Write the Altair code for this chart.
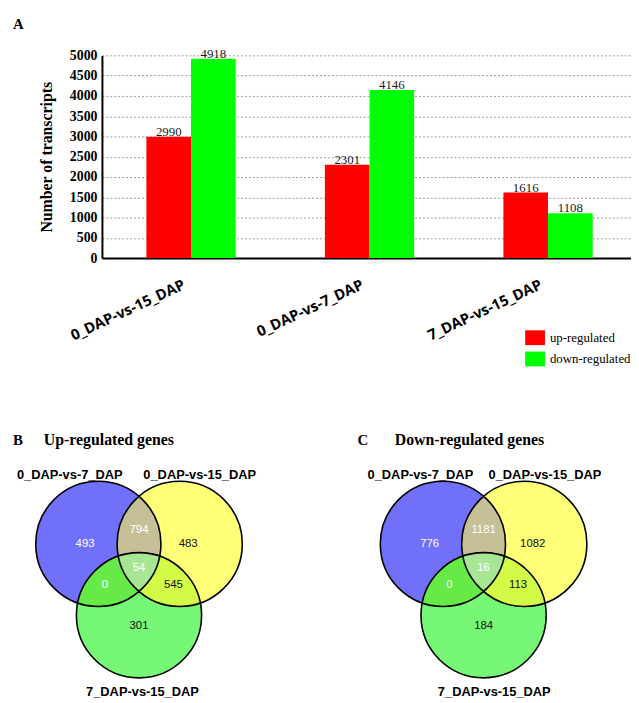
import math
import altair as alt
import pandas as pd

# ------------------------------------------------------------------ data
comparisons = ["0_DAP-vs-15_DAP", "0_DAP-vs-7_DAP", "7_DAP-vs-15_DAP"]
up_regulated = [2990, 2301, 1616]
down_regulated = [4918, 4146, 1108]
directions = ["up-regulated", "down-regulated"]
y_tick_values = [0, 500, 1000, 1500, 2000, 2500, 3000, 3500, 4000, 4500, 5000]

venn_sets = ["0_DAP-vs-7_DAP", "0_DAP-vs-15_DAP", "7_DAP-vs-15_DAP"]
venn_regions = ["A", "B", "C", "AB", "AC", "BC", "ABC"]
up_counts = [493, 483, 301, 794, 0, 545, 54]
down_counts = [776, 1082, 184, 1181, 0, 113, 16]
panel_letters = ["B", "C"]
panel_titles = ["Up-regulated genes", "Down-regulated genes"]

# ------------------------------------------------------------------ styles / layout
BAR_COLORS = ["#FF0000", "#00FF00"]
REGION_FILL = {"A": "#7070FA", "B": "#FFFF78", "C": "#76F876", "AB": "#C6C096",
               "AC": "#66EA48", "BC": "#D4FA48", "ABC": "#A8E696"}
REGION_TEXT = {"A": "#FFFFFF", "B": "#111111", "C": "#111111", "AB": "#FFFFFF",
               "AC": "#FFFFFF", "BC": "#111111", "ABC": "#FFFFFF"}

PX = 63.3                 # pixels per Venn circle radius
SEP, DROP = 0.65, 1.14    # circle layout in radius units
CIRCLES = {"A": (-SEP, 0.0), "B": (SEP, 0.0), "C": (0.0, -DROP)}   # y up
LABEL_POS = {"A": (-0.862, 0.0), "B": (0.785, 0.0), "C": (0.0, -1.316),
             "AB": (0.0, 0.225), "AC": (-0.545, -0.655), "BC": (0.55, -0.655),
             "ABC": (0.0, -0.387)}
PANEL_X = [0.0, 5.505]
SET_LABEL_X = [[-1.106, 0.97, 0.055], [-1.01, 0.98, 0.17]]
SET_LABEL_Y = [1.106, 1.106, -2.37]
LETTER_X = -2.014
TITLE_X = [-1.52, -1.42]
HEAD_Y = 1.58

BW, BH = 530, 268
X0 = -0.592
Y1 = 1.8167
TOP_W, TOP_H = 535, 205

# ------------------------------------------------------------------ top: bar chart
bar_df = pd.DataFrame({
    "comparison": comparisons * 2,
    "direction": [directions[0]] * 3 + [directions[1]] * 3,
    "value": up_regulated + down_regulated,
})

x_enc = alt.X(
    "comparison:N", sort=comparisons,
    scale=alt.Scale(paddingInner=0.5, paddingOuter=0.232, align=0.537),
    axis=alt.Axis(title=None, labelAngle=-25, labelAlign="right", labelBaseline="alphabetic",
                  labelPadding=30, labelOffset=-5, labelFont="Open Sans", labelFontWeight="bold",
                  labelFontSize=15, labelColor="black", ticks=False, tickSize=0,
                  domainColor="black", domainWidth=2, grid=False, labelOverlap=False))
xoff_enc = alt.XOffset("direction:N", sort=directions,
                       scale=alt.Scale(paddingInner=0, paddingOuter=0))
y_enc = alt.Y(
    "value:Q", scale=alt.Scale(domain=[0, 5000], nice=False),
    axis=alt.Axis(values=y_tick_values, format="d", title="Number of transcripts",
                  titleFont="Liberation Serif", titleFontSize=16, titleFontWeight="bold",
                  titleColor="black", titlePadding=15,
                  labelFont="Liberation Serif", labelFontSize=14, labelFontWeight="bold",
                  labelColor="black", labelPadding=5, ticks=False, tickSize=0,
                  domainColor="black", domainWidth=2, grid=True, gridColor="#9a9a9a",
                  gridDash=[2, 2], gridWidth=1))

base = alt.Chart(bar_df).encode(x=x_enc, xOffset=xoff_enc, y=y_enc)
bars = base.mark_bar().encode(
    color=alt.Color("direction:N", sort=directions,
                    scale=alt.Scale(domain=directions, range=BAR_COLORS),
                    legend=alt.Legend(orient="none", legendX=428, legendY=275.5, title=None,
                                      symbolType="M-1,-0.75H1V0.75H-1Z", symbolSize=400,
                                      symbolStrokeWidth=0, symbolOpacity=1,
                                      labelFont="Liberation Serif", labelFontSize=13,
                                      labelColor="black", labelOffset=5, rowPadding=3.5,
                                      padding=0)))
bar_text = base.mark_text(baseline="alphabetic", dy=-1, font="Liberation Serif",
                          fontSize=13, color="#1a1a1a").encode(
    text=alt.Text("value:Q", format="d"))
letter_a = alt.Chart(pd.DataFrame({"t": ["A"]})).mark_text(
    align="left", baseline="top", font="Liberation Serif", fontSize=15,
    fontWeight="bold", color="black").encode(
    x=alt.value(-90), y=alt.value(-39), text="t:N")

top = alt.layer(bars, bar_text, letter_a).properties(width=TOP_W, height=TOP_H)

# ------------------------------------------------------------------ bottom: Venn geometry
PC = {k: (v[0], -v[1]) for k, v in CIRCLES.items()}   # path frame, y down


def circ_inter(c1, c2):
    dx, dy = c2[0] - c1[0], c2[1] - c1[1]
    d = math.hypot(dx, dy)
    h = math.sqrt(1 - (d / 2) ** 2)
    mx, my = c1[0] + dx / 2, c1[1] + dy / 2
    ux, uy = -dy / d, dx / d
    return (mx + h * ux, my + h * uy), (mx - h * ux, my - h * uy)


def inside(p, c):
    return (p[0] - c[0]) ** 2 + (p[1] - c[1]) ** 2 < 1 - 1e-9


PTS = {}
for s1, s2, s3 in [("A", "B", "C"), ("A", "C", "B"), ("B", "C", "A")]:
    p, q = circ_inter(PC[s1], PC[s2])
    inner, outer = (p, q) if inside(p, PC[s3]) else (q, p)
    PTS[s1 + s2 + "i"] = inner
    PTS[s1 + s2 + "o"] = outer

BOUNDARY = {
    "A": [("ABo", "A"), ("ACo", "C"), ("BCi", "B")],
    "B": [("ABo", "B"), ("BCo", "C"), ("ACi", "A")],
    "C": [("ACo", "C"), ("BCo", "B"), ("ABi", "A")],
    "AB": [("ABo", "A"), ("ACi", "C"), ("BCi", "B")],
    "AC": [("ACo", "C"), ("BCi", "B"), ("ABi", "A")],
    "BC": [("BCo", "C"), ("ACi", "A"), ("ABi", "B")],
    "ABC": [("ABi", "A"), ("ACi", "C"), ("BCi", "B")],
}


def arc_cmd(P, Q, circ, region):
    c = PC[circ]
    tp = math.atan2(P[1] - c[1], P[0] - c[0])
    tq = math.atan2(Q[1] - c[1], Q[0] - c[0])
    for sweep in (1, 0):
        if sweep == 1:
            span = (tq - tp) % (2 * math.pi)
            mid = tp + span / 2
        else:
            span = (tp - tq) % (2 * math.pi)
            mid = tp - span / 2
        m = (c[0] + math.cos(mid), c[1] + math.sin(mid))
        ok = all(inside(m, PC[o]) == (o in region) for o in "ABC" if o != circ)
        if ok:
            large = 1 if span > math.pi else 0
            return f"A1,1,0,{large},{sweep},{Q[0]:.4f},{Q[1]:.4f}"
    raise ValueError("no arc")


def region_path(region):
    seq = BOUNDARY[region]
    start = PTS[seq[0][0]]
    d = f"M{start[0]:.4f},{start[1]:.4f}"
    for k, (vname, circ) in enumerate(seq):
        P = PTS[vname]
        Q = PTS[seq[(k + 1) % len(seq)][0]]
        d += arc_cmd(P, Q, circ, region)
    return d + "Z"


SIZE = (2 * PX) ** 2

xs = alt.Scale(domain=[X0, X0 + BW / PX], nice=False, zero=False)
ys = alt.Scale(domain=[Y1 - BH / PX, Y1], nice=False, zero=False)
XE = alt.X("x:Q", scale=xs, axis=None)
YE = alt.Y("y:Q", scale=ys, axis=None)

region_rows, count_rows, circle_rows, set_rows, head_rows = [], [], [], [], []
for p, counts in enumerate([up_counts, down_counts]):
    px = PANEL_X[p]
    for r, n in zip(venn_regions, counts):
        region_rows.append({"x": px, "y": 0.0, "path": region_path(r), "fill": REGION_FILL[r]})
        lx, ly = LABEL_POS[r]
        count_rows.append({"x": px + lx, "y": ly, "n": str(n), "tc": REGION_TEXT[r]})
    for i, s in enumerate(["A", "B", "C"]):
        cx, cy = CIRCLES[s]
        circle_rows.append({"x": px + cx, "y": cy})
        set_rows.append({"x": px + SET_LABEL_X[p][i], "y": SET_LABEL_Y[i], "t": venn_sets[i]})
    head_rows.append({"x": px + LETTER_X, "y": HEAD_Y, "t": panel_letters[p], "k": "letter"})
    head_rows.append({"x": px + TITLE_X[p], "y": HEAD_Y, "t": panel_titles[p], "k": "title"})

regions = alt.Chart(pd.DataFrame(region_rows)).mark_point(
    filled=True, opacity=1, strokeWidth=0, size=SIZE).encode(
    x=XE, y=YE, shape=alt.Shape("path:N", scale=None),
    color=alt.Color("fill:N", scale=None))
outlines = alt.Chart(pd.DataFrame(circle_rows)).mark_point(
    shape="circle", filled=False, opacity=1, color="black", strokeWidth=1.6, size=SIZE).encode(
    x=XE, y=YE)
counts_txt = alt.Chart(pd.DataFrame(count_rows)).mark_text(
    font="Liberation Sans", fontSize=11.5, baseline="middle", align="center").encode(
    x=XE, y=YE, text="n:N", color=alt.Color("tc:N", scale=None))
set_txt = alt.Chart(pd.DataFrame(set_rows)).mark_text(
    font="Liberation Sans", fontSize=13, fontWeight="bold", baseline="middle",
    align="center", color="black").encode(x=XE, y=YE, text="t:N")
head_df = pd.DataFrame(head_rows)
letters = alt.Chart(head_df[head_df.k == "letter"]).mark_text(
    font="Liberation Serif", fontSize=15, fontWeight="bold", align="left",
    baseline="alphabetic", color="black").encode(x=XE, y=YE, text="t:N")
titles = alt.Chart(head_df[head_df.k == "title"]).mark_text(
    font="Liberation Serif", fontSize=16, fontWeight="bold", align="left",
    baseline="alphabetic", color="black").encode(x=XE, y=YE, text="t:N")

bottom = alt.layer(regions, outlines, counts_txt, set_txt, letters, titles).properties(
    width=BW, height=BH)

chart = alt.vconcat(top, bottom, spacing=88).properties(
    padding={"left": 4, "top": 5, "right": 0, "bottom": 0}, background="white"
).configure_view(strokeWidth=0)

chart.save("out.html", embed_options={"renderer": "svg", "actions": False})
